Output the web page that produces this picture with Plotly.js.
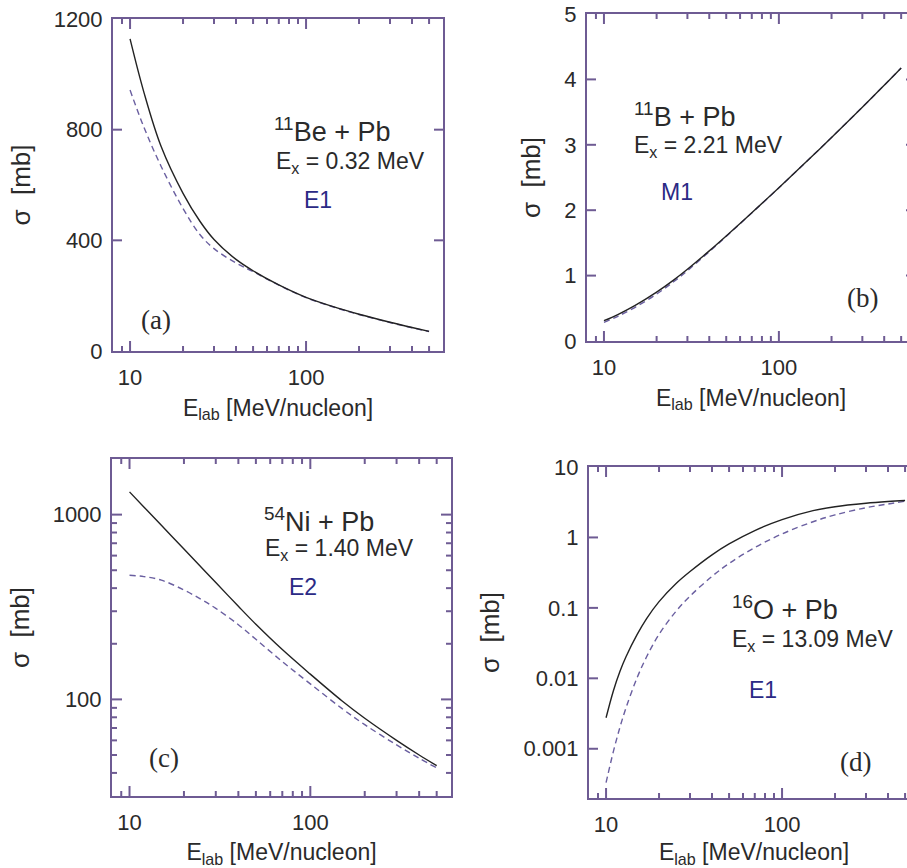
<!DOCTYPE html>
<html>
<head>
<meta charset="utf-8">
<script src="https://cdn.plot.ly/plotly-3.0.1.min.js"></script>
<style>
html, body { margin:0; padding:0; overflow:hidden; background:#fff; }
#chart { width:920px; height:868px; }
</style>
</head>
<body>
<div id="chart"></div>
<script>
// ---------------- data ----------------
const energyA = [10,12,15,20,25,30,40,50,70,100,150,200,300,400,500];
const sigmaA_solid  = [1128,934,740,570,468,403,331,290,239,194,156,133,104,85,71];
const sigmaA_dashed = [943,808,668,515,420,370,318,287,238,193,155,132,103,84,70.5];

const energyB = [10,12,15,20,25,30,40,50,70,100,150,200,300,400,500];
const sigmaB_solid  = [0.31,0.405,0.541,0.747,0.931,1.097,1.378,1.606,1.960,2.344,2.790,3.112,3.575,3.910,4.175];
const sigmaB_dashed = [0.285,0.378,0.512,0.718,0.905,1.075,1.366,1.600,1.958,2.343,2.790,3.112,3.575,3.910,4.175];

const energyC = [10,12,15,20,25,30,40,50,70,100,150,200,300,400,500];
const sigmaC_solid  = [1328,1101,875,651,517,429,319,255,186,137,98,79,60,50,43.8];
const sigmaC_dashed = [470,462,442,391,347,311,253.6,211.4,160.1,121.4,89.1,73.0,56.7,48.0,42.6];

const energyD = [10,11,12,13,15,17,20,25,30,40,50,70,100,150,200,300,400,500];
const sigmaD_solid  = [0.002754,0.006622,0.01262,0.02042,0.04178,0.07063,0.1227,0.2218,0.3281,0.5662,0.8091,1.253,1.791,2.399,2.729,3.055,3.236,3.350];
const sigmaD_dashed = [0.000331,0.000910,0.002028,0.003846,0.01016,0.02023,0.04207,0.08974,0.1469,0.2805,0.4266,0.7178,1.122,1.671,2.089,2.642,2.985,3.266];

const xTickVals = [10,100];
const xTickText = ['10','100'];
const xMinorVals = [9,20,30,40,50,60,70,80,90,200,300,400,500];
const yTickA = [0,400,800,1200];
const yTickB = [0,1,2,3,4,5];
const yTickC = [100,1000];
const yTickTextC = ['100','1000'];
const yMinorC = [40,50,60,70,80,90,200,300,400,500,600,700,800,900];
const yTickD = [0.001,0.01,0.1,1,10];
const yTickTextD = ['0.001','0.01','0.1','1','10'];

const reactions = ['<sup>11</sup>Be + Pb','<sup>11</sup>B + Pb','<sup>54</sup>Ni + Pb','<sup>16</sup>O + Pb'];
const excitation = ['E<sub>x</sub> = 0.32 MeV','E<sub>x</sub> = 2.21 MeV','E<sub>x</sub> = 1.40 MeV','E<sub>x</sub> = 13.09 MeV'];
const multipole = ['E1','M1','E2','E1'];
const panelLabels = ['(a)','(b)','(c)','(d)'];

// ---------------- style ----------------
const W = 920, H = 868;
const FRAME = '#6e5b93';
const TXT = '#2a2a2a';
const SANS = 'Liberation Sans';
const SERIF = 'Liberation Serif';
const px = (a,b) => [a/W, b/W];
const py = (top,bottom) => [1-bottom/H, 1-top/H];
const XR = [Math.log10(8), Math.log10(600)];
const YRA = [0,1200], YRB = [0,5];
const YRC = [Math.log10(30), Math.log10(2000)];
const YRD = [Math.log10(0.0002), 1];

const dom = {
  a:{x:px(113,443), y:py(19,351)},
  b:{x:px(587,915), y:py(14,341)},
  c:{x:px(112,451), y:py(459,796)},
  d:{x:px(589,919), y:py(467,798)}
};

function baseAxis() {
  return {
    showline:true, linecolor:FRAME, linewidth:2, mirror:true,
    ticks:'', showgrid:false, zeroline:false,
    tickfont:{family:SANS, size:22, color:TXT}
  };
}
function xAxis(domain, anchor) {
  return Object.assign(baseAxis(), {
    type:'log', domain:domain, anchor:anchor, range:XR,
    tickmode:'array', tickvals:xTickVals, ticktext:xTickText, ticklabelstandoff:6,
    title:{text:'E<sub>lab</sub> [MeV/nucleon]', font:{family:SANS, size:23, color:TXT}, standoff:10}
  });
}
function yTitle() {
  return {text:'\u03c3\u00a0\u00a0[mb]', font:{family:SANS, size:26, color:TXT}, standoff:16};
}

// ---- tick marks as small filled rectangles, placed through the axis range mapping ----
const shapes = [];
function frac(v, range, isLog) { const t = isLog ? Math.log10(v) : v; return (t - range[0]) / (range[1] - range[0]); }
function tickRect(x0, x1, y0, y1) {
  return {type:'rect', xref:'paper', yref:'paper', x0:x0, x1:x1, y0:y0, y1:y1,
          fillcolor:FRAME, line:{width:0}, layer:'above'};
}
function addXTicks(d, vals, len) {
  vals.forEach(v => {
    const f = frac(v, XR, true);
    if (f <= 0 || f >= 1) return;
    const xp = d.x[0] + f * (d.x[1] - d.x[0]);
    const hw = 1 / W;
    shapes.push(tickRect(xp - hw, xp + hw, d.y[0], d.y[0] + len/H));
    shapes.push(tickRect(xp - hw, xp + hw, d.y[1] - len/H, d.y[1]));
  });
}
function addYTicks(d, vals, range, isLog, len) {
  vals.forEach(v => {
    const f = frac(v, range, isLog);
    if (f <= 0.001 || f >= 0.999) return;
    const yp = d.y[0] + f * (d.y[1] - d.y[0]);
    const hh = 1 / H;
    shapes.push(tickRect(d.x[0], d.x[0] + len/W, yp - hh, yp + hh));
    shapes.push(tickRect(d.x[1] - len/W, d.x[1], yp - hh, yp + hh));
  });
}
[dom.a, dom.b, dom.c, dom.d].forEach(d => {
  addXTicks(d, xTickVals, 10);
  addXTicks(d, xMinorVals, 5);
});
addYTicks(dom.a, yTickA, YRA, false, 9);
addYTicks(dom.b, yTickB, YRB, false, 9);
addYTicks(dom.c, yTickC, YRC, true, 10);
addYTicks(dom.c, yMinorC, YRC, true, 5);
addYTicks(dom.d, yTickD, YRD, true, 9);

const solid = {color:'#222222', width:1.4, shape:'spline', smoothing:1};
const dashed = {color:'#6a5fa0', width:1.4, dash:'6px,4px', shape:'spline', smoothing:1};

const traces = [
  {x:energyA, y:sigmaA_dashed, xaxis:'x', yaxis:'y', mode:'lines', line:dashed},
  {x:energyA, y:sigmaA_solid,  xaxis:'x', yaxis:'y', mode:'lines', line:solid},
  {x:energyB, y:sigmaB_dashed, xaxis:'x2', yaxis:'y2', mode:'lines', line:dashed},
  {x:energyB, y:sigmaB_solid,  xaxis:'x2', yaxis:'y2', mode:'lines', line:solid},
  {x:energyC, y:sigmaC_dashed, xaxis:'x3', yaxis:'y3', mode:'lines', line:dashed},
  {x:energyC, y:sigmaC_solid,  xaxis:'x3', yaxis:'y3', mode:'lines', line:solid},
  {x:energyD, y:sigmaD_dashed, xaxis:'x4', yaxis:'y4', mode:'lines', line:dashed},
  {x:energyD, y:sigmaD_solid,  xaxis:'x4', yaxis:'y4', mode:'lines', line:solid}
];

const textPos = [
  {rx:272, ry:130, ex:274, ey:159, mx:302, my:200, lx:139, ly:320},
  {rx:632, ry:115, ex:632, ey:144, mx:659, my:192, lx:845, ly:298},
  {rx:262, ry:520, ex:263, ey:546, mx:287, my:587, lx:147, ly:758},
  {rx:730, ry:608, ex:730, ey:637, mx:747, my:690, lx:838, ly:762}
];
const annotations = [];
textPos.forEach((p,i) => {
  const common = {xref:'paper', yref:'paper', xanchor:'left', yanchor:'middle', showarrow:false};
  annotations.push(Object.assign({}, common, {x:p.rx/W, y:1-p.ry/H, text:reactions[i], font:{family:SANS, size:27, color:TXT}}));
  annotations.push(Object.assign({}, common, {x:p.ex/W, y:1-(p.ey+3)/H, text:excitation[i], font:{family:SANS, size:23, color:TXT}}));
  annotations.push(Object.assign({}, common, {x:p.mx/W, y:1-p.my/H, text:multipole[i], font:{family:SANS, size:23, color:'#2b2a85'}}));
  annotations.push(Object.assign({}, common, {x:p.lx/W, y:1-p.ly/H, text:panelLabels[i], font:{family:SERIF, size:27, color:TXT}}));
});

const layout = {
  width:W, height:H, showlegend:false,
  margin:{l:0, r:0, t:0, b:0},
  paper_bgcolor:'#ffffff', plot_bgcolor:'#ffffff',
  xaxis:  xAxis(dom.a.x, 'y'),
  xaxis2: xAxis(dom.b.x, 'y2'),
  xaxis3: xAxis(dom.c.x, 'y3'),
  xaxis4: xAxis(dom.d.x, 'y4'),
  yaxis: Object.assign(baseAxis(), {domain:dom.a.y, anchor:'x', range:YRA,
    tickmode:'array', tickvals:yTickA, ticklabelstandoff:4, title:yTitle()}),
  yaxis2: Object.assign(baseAxis(), {domain:dom.b.y, anchor:'x2', range:YRB,
    tickmode:'array', tickvals:yTickB, ticklabelstandoff:4, title:yTitle()}),
  yaxis3: Object.assign(baseAxis(), {domain:dom.c.y, anchor:'x3', type:'log', range:YRC,
    tickmode:'array', tickvals:yTickC, ticktext:yTickTextC, ticklabelstandoff:4, title:yTitle()}),
  yaxis4: Object.assign(baseAxis(), {domain:dom.d.y, anchor:'x4', type:'log', range:YRD,
    tickmode:'array', tickvals:yTickD, ticktext:yTickTextD, ticklabelstandoff:4, title:yTitle()}),
  shapes:shapes,
  annotations:annotations
};

Plotly.newPlot('chart', traces, layout, {staticPlot:true, displayModeBar:false});
</script>
</body>
</html>
